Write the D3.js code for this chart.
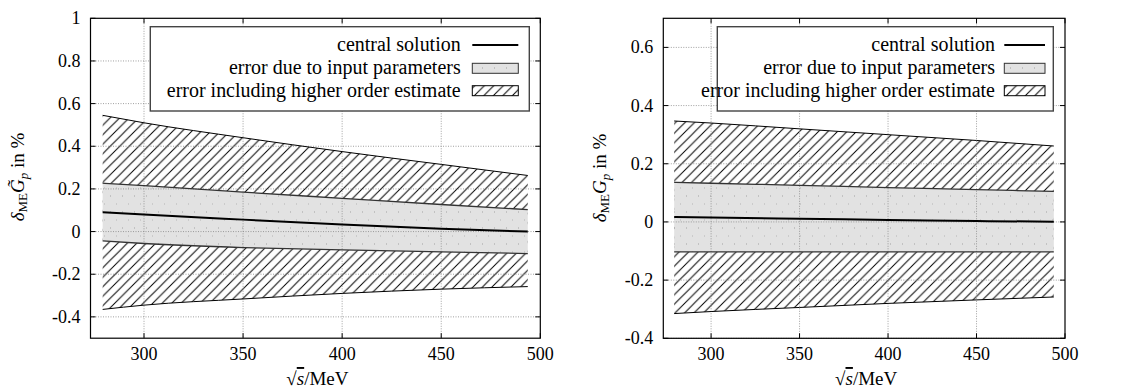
<!DOCTYPE html>
<html><head><meta charset="utf-8">
<script src="https://cdn.jsdelivr.net/npm/d3@7"></script>
<style>body{margin:0;background:#fff;}</style></head>
<body><svg id="c" width="1146" height="390" font-family="Liberation Serif"></svg>
<script>
// ---- data ----
const sqrtS = [279.14, 300, 350, 400, 450, 493.68];
// left panel: delta_ME G~_p
const leftOuterUp = [0.545, 0.51, 0.44, 0.375, 0.315, 0.263];
const leftInnerUp = [0.227, 0.215, 0.185, 0.156, 0.127, 0.103];
const leftCentral = [0.091, 0.08, 0.056, 0.033, 0.013, 0.0];
const leftInnerLo = [-0.044, -0.056, -0.075, -0.086, -0.095, -0.103];
const leftOuterLo = [-0.365, -0.345, -0.316, -0.29, -0.27, -0.258];
// right panel: delta_ME G_p
const rightOuterUp = [0.347, 0.34, 0.32, 0.30, 0.28, 0.261];
const rightInnerUp = [0.136, 0.133, 0.126, 0.118, 0.111, 0.105];
const rightCentral = [0.017, 0.015, 0.011, 0.007, 0.003, 0.001];
const rightInnerLo = [-0.103, -0.103, -0.103, -0.103, -0.103, -0.103];
const rightOuterLo = [-0.315, -0.308, -0.294, -0.28, -0.268, -0.258];
const xTicks = [300, 350, 400, 450, 500];
const leftYTicks = [1, 0.8, 0.6, 0.4, 0.2, 0, -0.2, -0.4];
const rightYTicks = [0.6, 0.4, 0.2, 0, -0.2, -0.4];
const legendLabels = ["central solution", "error due to input parameters", "error including higher order estimate"];

const svg = d3.select("#c");
const defs = svg.append("defs");
const hp = defs.append("pattern").attr("id","hatch").attr("patternUnits","userSpaceOnUse")
  .attr("width",9.5).attr("height",9.5);
hp.append("path").attr("d","M0,9.5 L9.5,0 M-2,2 L2,-2 M7.5,11.5 L11.5,7.5")
  .attr("stroke","#000").attr("stroke-width",1).attr("fill","none");
const gp = defs.append("pattern").attr("id","gray").attr("patternUnits","userSpaceOnUse")
  .attr("width",12).attr("height",16);
gp.append("rect").attr("width",12).attr("height",16).attr("fill","#e2e2e2");
gp.append("rect").attr("x",2).attr("y",3).attr("width",1).attr("height",2).attr("fill","#c2c2c2");
gp.append("rect").attr("x",8).attr("y",11).attr("width",1).attr("height",2).attr("fill","#cbcbcb");

const FS = 18;
function panel(cfg){
  const x = d3.scaleLinear().domain([273, 500]).range([cfg.x0, cfg.x1]);
  const y = d3.scaleLinear().domain(cfg.yDom).range([cfg.y1, cfg.y0]);
  const g = svg.append("g");
  const pts = sqrtS.map((s,i)=>({s, ou:cfg.ou[i], iu:cfg.iu[i], c:cfg.c[i], il:cfg.il[i], ol:cfg.ol[i]}));
  const curve = d3.curveMonotoneX;
  const area = (a,b)=>d3.area().curve(curve).x(d=>x(d.s)).y0(d=>y(d[a])).y1(d=>y(d[b]));
  const line = k=>d3.line().curve(curve).x(d=>x(d.s)).y(d=>y(d[k]));
  g.append("path").datum(pts).attr("d",area("ol","ou")).attr("fill","url(#hatch)");
  g.append("path").datum(pts).attr("d",area("il","iu")).attr("fill","url(#gray)");
  const grid = g.append("g").attr("stroke","#888").attr("stroke-width",0.8).attr("stroke-dasharray","1,1.5");
  xTicks.forEach(t=>{ if(t<500) grid.append("line").attr("x1",x(t)).attr("x2",x(t)).attr("y1",cfg.y0).attr("y2",cfg.y1); });
  cfg.yTicks.forEach(t=>{ if(y(t)>cfg.y0+1) grid.append("line").attr("x1",cfg.x0).attr("x2",cfg.x1).attr("y1",y(t)).attr("y2",y(t)); });
  ["ou","ol"].forEach(k=>g.append("path").datum(pts).attr("d",line(k)).attr("fill","none").attr("stroke","#000").attr("stroke-width",1));
  ["iu","il"].forEach(k=>g.append("path").datum(pts).attr("d",line(k)).attr("fill","none").attr("stroke","#333").attr("stroke-width",1.3));
  g.append("path").datum(pts).attr("d",line("c")).attr("fill","none").attr("stroke","#000").attr("stroke-width",2);
  g.append("rect").attr("x",cfg.x0).attr("y",cfg.y0).attr("width",cfg.x1-cfg.x0).attr("height",cfg.y1-cfg.y0)
    .attr("fill","none").attr("stroke","#000").attr("stroke-width",1.2);
  const tk = g.append("g").attr("stroke","#000").attr("stroke-width",1);
  xTicks.forEach(t=>{
    tk.append("line").attr("x1",x(t)).attr("x2",x(t)).attr("y1",cfg.y1).attr("y2",cfg.y1-5);
    tk.append("line").attr("x1",x(t)).attr("x2",x(t)).attr("y1",cfg.y0).attr("y2",cfg.y0+5);
    g.append("text").attr("x",x(t)).attr("y",cfg.y1+22).attr("text-anchor","middle").attr("font-size",FS).text(t);
  });
  cfg.yTicks.forEach(t=>{
    tk.append("line").attr("x1",cfg.x0).attr("x2",cfg.x0+5).attr("y1",y(t)).attr("y2",y(t));
    tk.append("line").attr("x1",cfg.x1).attr("x2",cfg.x1-5).attr("y1",y(t)).attr("y2",y(t));
    g.append("text").attr("x",cfg.x0-10).attr("y",y(t)+6).attr("text-anchor","end").attr("font-size",FS).text(String(t));
  });
  const xl = g.append("text").attr("x",(cfg.x0+cfg.x1)/2+2).attr("y",385).attr("text-anchor","middle").attr("font-size",19);
  xl.append("tspan").text("\u221A");
  xl.append("tspan").attr("font-style","italic").attr("text-decoration","overline").text("s");
  xl.append("tspan").text("/MeV");
  const yl = g.append("text").attr("transform",`translate(${cfg.ylx},${cfg.yly}) rotate(-90)`).attr("text-anchor","middle").attr("font-size",19);
  yl.append("tspan").attr("font-style","italic").text("\u03B4");
  yl.append("tspan").attr("font-size",13).attr("dy",3).text("ME");
  yl.append("tspan").attr("font-style","italic").attr("dy",-3).text(cfg.tilde ? "G\u0303" : "G");
  yl.append("tspan").attr("font-style","italic").attr("font-size",13).attr("dy",4).text("p");
  yl.append("tspan").attr("dy",-4).text(" in %");
  const L = cfg.leg;
  g.append("rect").attr("x",L.x0).attr("y",L.y0).attr("width",L.x1-L.x0).attr("height",L.y1-L.y0)
    .attr("fill","#fff").attr("stroke","#444").attr("stroke-width",1.4);
  const rows = [45, 68.3, 90.7];
  const probe = g.append("text").attr("font-size",18).text(legendLabels[2]);
  const lfs = 18 * L.textW / probe.node().getComputedTextLength();
  probe.remove();
  legendLabels.forEach((lab,i)=>{
    g.append("text").attr("x",L.tx).attr("y",rows[i]+6).attr("text-anchor","end").attr("font-size",lfs).text(lab);
  });
  g.append("line").attr("x1",L.sx0).attr("x2",L.sx1).attr("y1",rows[0]).attr("y2",rows[0]).attr("stroke","#000").attr("stroke-width",2);
  g.append("rect").attr("x",L.sx0).attr("y",rows[1]-5).attr("width",L.sx1-L.sx0).attr("height",10).attr("fill","url(#gray)").attr("stroke","#333").attr("stroke-width",1);
  g.append("rect").attr("x",L.sx0).attr("y",rows[2]-5).attr("width",L.sx1-L.sx0).attr("height",10).attr("fill","url(#hatch)").attr("stroke","#000").attr("stroke-width",1);
}

panel({x0:90.5, x1:540.3, y0:18.3, y1:338.2, yDom:[-0.5,1], yTicks:leftYTicks,
  ou:leftOuterUp, iu:leftInnerUp, c:leftCentral, il:leftInnerLo, ol:leftOuterLo,
  ylx:24, yly:177, tilde:true,
  leg:{x0:150.3, y0:26.7, x1:529.3, y1:111, tx:460.7, sx0:472.3, sx1:518.3, textW:294}});
panel({x0:663.3, x1:1065, y0:18.3, y1:338.3, yDom:[-0.4,0.7], yTicks:rightYTicks,
  ou:rightOuterUp, iu:rightInnerUp, c:rightCentral, il:rightInnerLo, ol:rightOuterLo,
  ylx:606, yly:178, tilde:false,
  leg:{x0:717.3, y0:26.7, x1:1053.3, y1:111, tx:995, sx0:1004.3, sx1:1045, textW:294}});
</script></body></html>
